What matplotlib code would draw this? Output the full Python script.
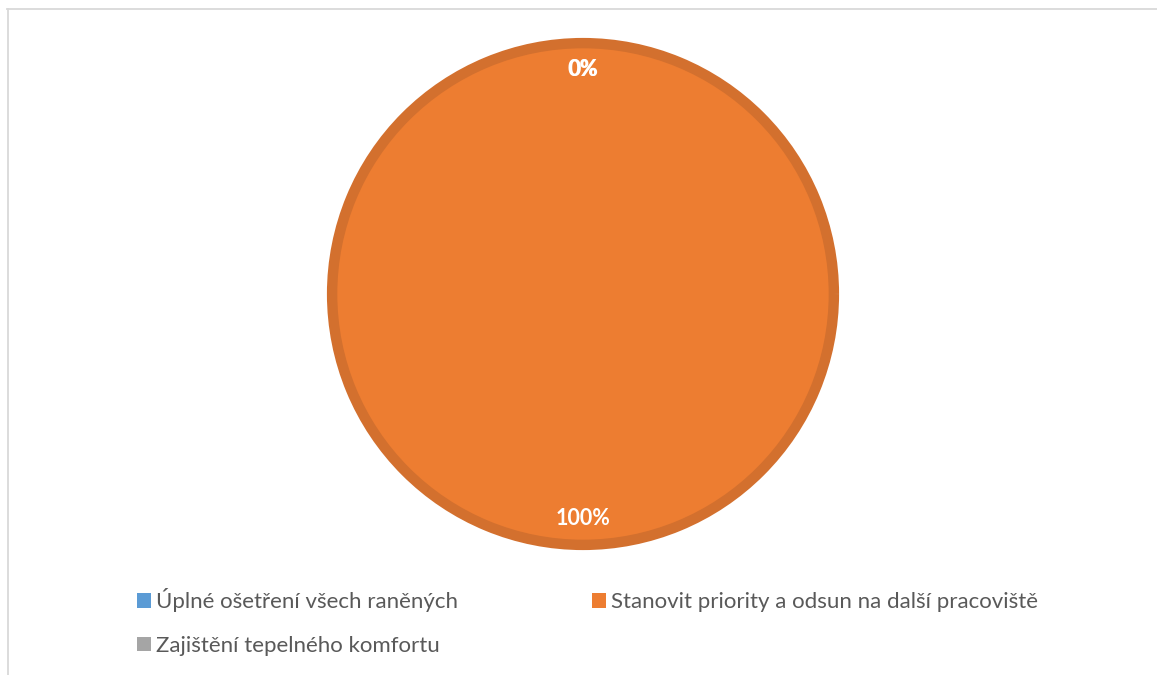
import matplotlib
matplotlib.use("Agg")
import matplotlib.pyplot as plt
from matplotlib.patches import Patch
from matplotlib.lines import Line2D

categories = [
    "Úplné ošetření všech raněných",
    "Stanovit priority a odsun na další pracoviště",
    "Zajištění tepelného komfortu",
]
values = [0, 100, 0]
colors = ["#5B9BD5", "#ED7D31", "#A5A5A5"]
ring_color = "#D3702E"

W, H = 1157, 675
fig = plt.figure(figsize=(W / 100, H / 100), dpi=100)
fig.patch.set_facecolor("white")

# Chart frame (top and left edges)
fig.add_artist(Line2D([7 / W, 1.0], [1 - 8.5 / H, 1 - 8.5 / H],
                      transform=fig.transFigure, color="#D9D9D9", lw=1.3))
fig.add_artist(Line2D([7.5 / W, 7.5 / W], [0.0, 1 - 8.5 / H],
                      transform=fig.transFigure, color="#D9D9D9", lw=1.3))

# Pie area: centre (583, 294) px, outer radius 256 px
cx, cy, R = 583, 294, 256
ax = fig.add_axes([(cx - R) / W, (H - cy - R) / H, 2 * R / W, 2 * R / H])

wedges, texts, autotexts = ax.pie(
    values,
    colors=colors,
    startangle=90,
    counterclock=False,
    radius=0.98,
    autopct="%1.0f%%",
    pctdistance=0.895,
    wedgeprops=dict(edgecolor=ring_color, linewidth=7.5),
    textprops=dict(color="white", fontsize=15.5, fontweight="bold", family="Lato"),
)
ax.set_xlim(-1, 1)
ax.set_ylim(-1, 1)
ax.set_aspect("equal")
ax.axis("off")
for w, v in zip(wedges, values):
    w.set_clip_on(False)
    if v == 0:
        w.set_linewidth(0)

# Legend laid out row by row in two columns
handles = [Patch(facecolor=c, edgecolor="none") for c in colors]
order = [0, 2, 1]
leg = fig.legend(
    [handles[i] for i in order],
    [categories[i] for i in order],
    ncol=2,
    loc="upper left",
    bbox_to_anchor=(128 / W, 1 - 579.5 / H),
    frameon=False,
    prop=dict(family="Lato", size=16),
    labelcolor="#595959",
    handlelength=0.65,
    handleheight=0.65,
    handletextpad=0.22,
    columnspacing=6.0,
    labelspacing=1.05,
    borderaxespad=0,
)

fig.savefig("out.png", dpi=100, facecolor="white")
